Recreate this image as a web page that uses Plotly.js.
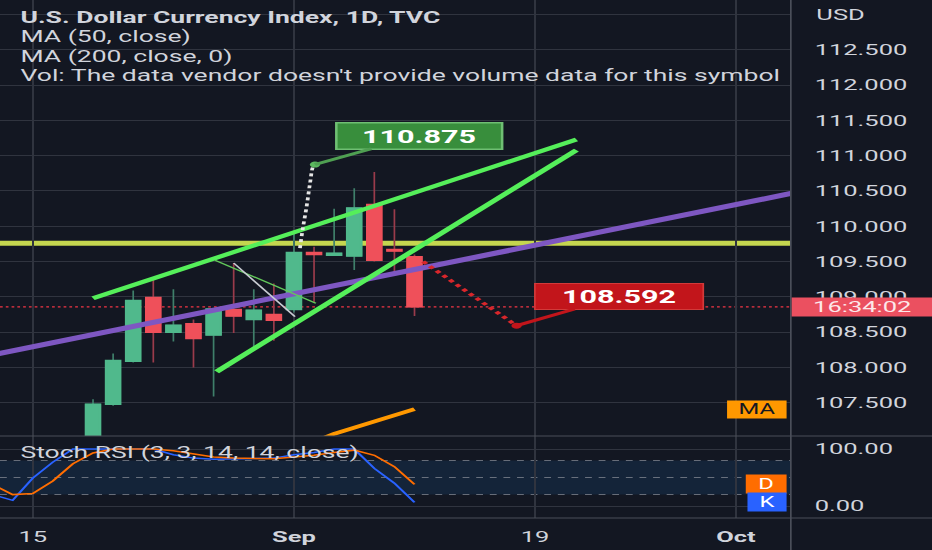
<!DOCTYPE html>
<html><head><meta charset="utf-8">
<script src="https://cdn.plot.ly/plotly-3.0.1.min.js"></script>
<style>
html,body{margin:0;padding:0;background:#131722;overflow:hidden;width:932px;height:550px;}
#chart{width:548px;height:550px;transform:scaleX(1.70073);transform-origin:0 0;}
</style></head><body><div id="chart"></div><script>
// ---- data ----
const dates = ['2022-08-10','2022-08-11','2022-08-12','2022-08-15','2022-08-16','2022-08-17','2022-08-18','2022-08-19','2022-08-22','2022-08-23','2022-08-24','2022-08-25','2022-08-26','2022-08-29','2022-08-30','2022-08-31','2022-09-01','2022-09-02','2022-09-05','2022-09-06','2022-09-07','2022-09-08','2022-09-09'];
const openP  = [106.40,105.20,105.10,105.60,106.50,106.60,106.62,107.48,108.09,108.99,108.50,108.62,108.46,108.82,108.68,108.75,108.82,109.63,109.59,109.58,110.31,109.67,109.57];
const highP  = [106.50,105.40,105.70,106.60,106.80,106.95,107.55,108.20,109.09,109.26,109.11,108.68,108.84,109.48,109.11,109.19,109.90,109.71,110.25,110.54,110.77,110.24,109.60];
const lowP   = [105.00,104.60,104.90,105.50,106.20,106.40,106.50,107.46,108.07,108.07,108.37,108.00,107.59,108.49,108.28,108.38,108.78,108.92,109.58,109.38,109.50,109.34,108.73];
const closeP = [105.20,105.10,105.60,106.50,106.60,106.60,107.48,108.10,108.95,108.50,108.60,108.41,108.83,108.73,108.81,108.67,109.63,109.60,109.62,110.26,109.52,109.65,108.86];
const ma50   = [105.62,105.70,105.78,105.86,105.94,106.02,106.10,106.18,106.26,106.34,106.42,106.50,106.58,106.66,106.74,106.82,106.88,106.95,107.06,107.15,107.24,107.33,107.41];
const stochK = [45,20,10,49,77,100,100,100,100,100,90,84,82,83,83,84,90,94,100,100,66,40,6.5];
const stochD = [50,38,20,22,44,74,93,100,100,100,97,91,86,84,83,83,86,89,94,98,89,69,38];

// drawings (time, price)
const purpleX = ['2022-08-11','2022-10-06'];           const purpleY = [108.18,110.48];
const upperX  = ['2022-08-18','2022-09-21 01:26'];     const upperY  = [108.98,111.23];
const lowerX  = ['2022-08-26 03:36','2022-09-21 01:26']; const lowerY = [107.94,111.08];
const thinGX  = ['2022-08-26 01:41','2022-09-02 02:10']; const thinGY = [109.52,108.91];
const thinWX  = ['2022-08-29','2022-09-01 01:12'];     const thinWY  = [109.48,108.72];
const curveX  = ['2022-09-01 07:12','2022-09-01 10:19','2022-09-01 15:07','2022-09-01 19:12','2022-09-01 22:41','2022-09-02 01:05'];
const curveY  = [109.69,109.95,110.28,110.61,110.84,110.875];
const projX   = ['2022-09-09 10:19','2022-09-16 01:55']; const projY = [109.50,108.592];
const levelY  = [109.76];

// axes
const xRange = ['2022-08-11 08:53','2022-10-05 17:31'];
const xTickVals = ['2022-08-15','2022-09-01','2022-09-19','2022-10-03'];
const xTickText = ['15','<b>Sep</b>','19','<b>Oct</b>'];
const priceTicks = [107.5,108,108.5,109,109.5,110,110.5,111,111.5,112,112.5,113];
const priceTickText = ['107.500','108.000','108.500','109.000','109.500','110.000','110.500','111.000','111.500','112.000','112.500',''];
const stochTicks = [0,100];
const stochTickText = ['0.00','100.00'];
const stochBands = [80,50,20];
const legendLines = ['<b>U.S. Dollar Currency Index, 1D, TVC</b>','MA (50, close)','MA (200, close, 0)',"Vol: The data vendor doesn't provide volume data for this symbol"];
const legendY = [18.3,37.3,56.7,75.7];

// ---- styling ----
const BG='#131722', GRID='#30343f', TXT='#d1d4dc', BORDER='#4a4e59';
const UP='#50b98c', DN='#ef505a', UPW='#3f7f6a', DNW='#9a3b4b';
const FONT='Roboto';
const N = dates.length, last = N-1;
const bodyHi = openP.map((o,i)=>Math.max(o,closeP[i]));
const bodyLo = openP.map((o,i)=>Math.min(o,closeP[i]));
const PD = 0.1583; // pane split (paper)

function line(x,y,color,width,extra){return Object.assign({type:'scatter',mode:'lines',x:x,y:y,line:{color:color,width:width},hoverinfo:'skip',xaxis:'x',yaxis:'y'},extra||{});}

const traces = [
  line(purpleX,purpleY,'#7e57c2',5),
  line(upperX,upperY,'#55ef5a',4),
  line(lowerX,lowerY,'#55ef5a',4),
  line(thinGX,thinGY,'#62c85a',1.2),
  line(thinWX,thinWY,'#c8cbd2',1.2),
  line(dates,ma50,'#ff9800',3.5),
  {type:'candlestick',x:dates,open:openP,high:highP,low:lowP,close:closeP,
   increasing:{line:{color:UPW,width:1},fillcolor:UP},decreasing:{line:{color:DNW,width:1},fillcolor:DN},
   hoverinfo:'skip',xaxis:'x',yaxis:'y',whiskerwidth:0},
  {type:'candlestick',x:dates,open:openP,high:bodyHi,low:bodyLo,close:closeP,
   increasing:{line:{color:UP,width:1.5},fillcolor:UP},decreasing:{line:{color:DN,width:1.5},fillcolor:DN},
   hoverinfo:'skip',xaxis:'x',yaxis:'y',whiskerwidth:0},
  line(curveX,curveY,'#e6e6e6',2.2,{line:{color:'#e6e6e6',width:2.2,dash:'dot',shape:'spline'}}),
  {type:'scatter',mode:'markers',x:[curveX[curveX.length-1]],y:[curveY[curveY.length-1]],marker:{color:'#5cb85f',size:6},hoverinfo:'skip'},
  line(projX,projY,'#d32f2f',3,{line:{color:'#d9262b',width:3,dash:'dot'}}),
  {type:'scatter',mode:'markers',x:[projX[1]],y:[projY[1]],marker:{color:'#c2151b',size:6},hoverinfo:'skip'},
  {type:'scatter',mode:'lines',x:dates,y:stochK,line:{color:'#2962ff',width:1.5},hoverinfo:'skip',xaxis:'x',yaxis:'y2'},
  {type:'scatter',mode:'lines',x:dates,y:stochD,line:{color:'#ff6d00',width:1.5},hoverinfo:'skip',xaxis:'x',yaxis:'y2'}
];

const shapes = [
  {type:'rect',xref:'paper',x0:0,x1:1,yref:'y2',y0:stochBands[2],y1:stochBands[0],fillcolor:'rgba(33,150,243,0.11)',line:{width:0},layer:'between'},
  ...stochBands.map(v=>({type:'line',xref:'paper',x0:0,x1:1,yref:'y2',y0:v,y1:v,line:{color:'rgba(160,163,172,0.6)',width:1,dash:'4px,4px'},layer:'between'})),
  {type:'line',xref:'paper',x0:0,x1:1,yref:'y',y0:levelY[0],y1:levelY[0],line:{color:'#c5d64f',width:5},layer:'between'},
  {type:'line',xref:'paper',x0:0,x1:1,yref:'y',y0:closeP[last],y1:closeP[last],line:{color:'#f23645',width:1.3,dash:'1.6px,1.8px'},layer:'between'},
  {type:'line',xref:'paper',yref:'paper',x0:0,x1:1.18,y0:PD,y1:PD,line:{color:BORDER,width:1},layer:'above'},
  {type:'line',xref:'paper',yref:'paper',x0:0,x1:1.18,y0:0,y1:0,line:{color:BORDER,width:1},layer:'above'},
  {type:'line',xref:'paper',yref:'paper',x0:1,x1:1,y0:-0.07,y1:1,line:{color:BORDER,width:1},layer:'above'}
];

const annotations = [];
legendLines.forEach((t,i)=>annotations.push({xref:'paper',yref:'paper',x:0,y:1,xanchor:'left',yanchor:'middle',xshift:9.5,yshift:-legendY[i],text:t,showarrow:false,font:{family:FONT,size:15.6,color:TXT}}));
annotations.push({xref:'paper',yref:'paper',x:0,y:1,xanchor:'left',yanchor:'middle',xshift:9.5,yshift:-453.3,text:'Stoch RSI (3, 3, 14, 14, close)',showarrow:false,font:{family:FONT,size:15.6,color:TXT}});
annotations.push({xref:'paper',yref:'paper',x:1,y:1,xanchor:'left',yanchor:'middle',xshift:12.5,yshift:-14.7,text:'USD',showarrow:false,font:{family:FONT,size:15,color:TXT}});
// price / countdown box
annotations.push({xref:'paper',yref:'y',x:1,y:closeP[last],xanchor:'left',yanchor:'middle',text:'16:34:02',showarrow:false,bgcolor:'#eb5060',borderpad:1,width:80,height:16,align:'center',font:{family:FONT,size:15,color:'#fde8ea'}});
// MA label
annotations.push({xref:'paper',yref:'y',x:1,y:ma50[last],xanchor:'right',yanchor:'middle',xshift:-1.8,text:'MA',showarrow:false,bgcolor:'#ff9800',borderpad:1,width:32,height:15,font:{family:FONT,size:14,color:'#131722'}});
// D / K labels
annotations.push({xref:'paper',yref:'y2',x:1,y:stochD[last],xanchor:'right',yanchor:'middle',xshift:-1.8,text:'D',showarrow:false,bgcolor:'#ff6d00',borderpad:1,width:21,height:15.7,font:{family:FONT,size:14,color:'#ffffff'}});
annotations.push({xref:'paper',yref:'y2',x:1,y:stochK[last],xanchor:'right',yanchor:'middle',xshift:-1.8,text:'K',showarrow:false,bgcolor:'#2962ff',borderpad:1,width:20,height:15.7,font:{family:FONT,size:14,color:'#ffffff'}});
// callouts
annotations.push({xref:'x',yref:'y',x:curveX[curveX.length-1],y:curveY[curveY.length-1],ax:61,ay:-29,text:'<b>110.875</b>',showarrow:true,arrowhead:0,arrowwidth:3,arrowcolor:'#4f9f52',standoff:0,bgcolor:'#388e3c',bordercolor:'#6fbf73',borderwidth:1.5,borderpad:1,width:93.8,height:23.3,font:{family:FONT,size:18,color:'#ffffff'}});
annotations.push({xref:'x',yref:'y',x:projX[1],y:projY[1],ax:60.7,ay:-29.7,text:'<b>108.592</b>',showarrow:true,arrowhead:0,arrowwidth:3,arrowcolor:'#c2151b',standoff:0,bgcolor:'#c2151b',bordercolor:'#d23a3a',borderwidth:1,borderpad:1,width:96,height:23.4,font:{family:FONT,size:18,color:'#ffffff'}});

const layout = {
  width:548,height:550,margin:{l:0,r:83,t:0,b:32},
  paper_bgcolor:BG,plot_bgcolor:BG,showlegend:false,
  font:{family:FONT,color:TXT,size:15},
  boxgap:0.3,boxgroupgap:0,boxmode:'overlay',
  xaxis:{type:'date',rangebreaks:[{bounds:['sat','mon']}],range:xRange,tickvals:xTickVals,ticktext:xTickText,
    showgrid:true,gridcolor:GRID,gridwidth:1,zeroline:false,showline:false,ticks:'',
    tickfont:{family:FONT,size:15,color:TXT},ticklabelstandoff:8,rangeslider:{visible:false},anchor:'y2',fixedrange:true},
  yaxis:{domain:[PD,1],range:[107.03,113.205],side:'right',tickvals:priceTicks,ticktext:priceTickText,
    showgrid:true,gridcolor:GRID,zeroline:false,showline:false,ticks:'',ticklabelstandoff:13,
    tickfont:{family:FONT,size:15,color:TXT},fixedrange:true},
  yaxis2:{domain:[0,PD],range:[-21.05,122.8],side:'right',tickvals:stochTicks,ticktext:stochTickText,
    showgrid:true,gridcolor:GRID,zeroline:false,showline:false,ticks:'',ticklabelstandoff:13,
    tickfont:{family:FONT,size:15,color:TXT},fixedrange:true},
  shapes:shapes,annotations:annotations
};
Plotly.newPlot('chart',traces,layout,{displayModeBar:false,staticPlot:true});
</script></body></html>
